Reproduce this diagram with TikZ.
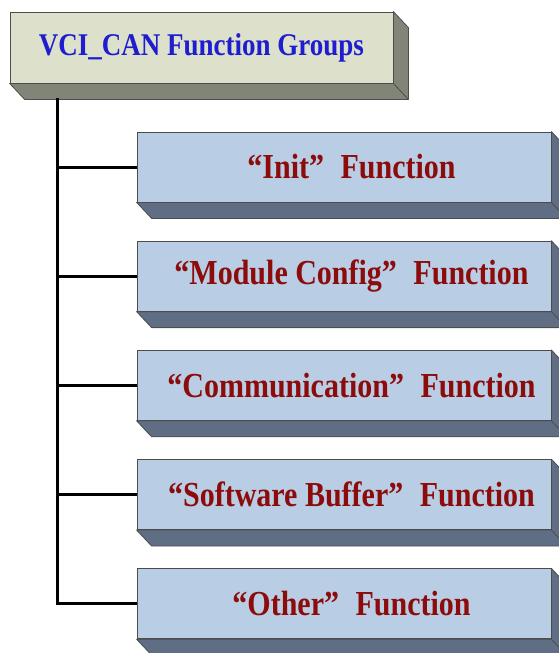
\documentclass[tikz,border=0pt]{standalone}
\usepackage{fontspec}
\setmainfont{Liberation Serif}
\usepackage{tikz}
\usetikzlibrary{calc,backgrounds}
\definecolor{grpfill}{HTML}{DDE0CB}
\definecolor{grpside}{HTML}{818578}
\definecolor{fnfill}{HTML}{B9CDE5}
\definecolor{fnside}{HTML}{5F6E85}
\definecolor{grptext}{HTML}{1E1ECF}
\definecolor{fntext}{HTML}{8C0C0C}
\tikzset{
  grp/.style={draw=black!70,line width=0.8pt,fill=grpfill,minimum width=383pt,minimum height=71pt,inner sep=0pt,font=\fontsize{27}{30}\selectfont\bfseries,text=grptext},
  fn/.style={draw=black!70,line width=0.8pt,fill=fnfill,minimum width=414pt,minimum height=70pt,inner sep=0pt,font=\fontsize{30}{33}\selectfont\bfseries,text=fntext},
  face/.style={draw=black!70,line width=0.8pt,line join=round},
  tree/.style={draw=black,line width=3pt},
}
\newcommand{\tall}[1]{\scalebox{1}[1.17]{#1}}
\newcommand{\fnname}[1]{\tall{\hspace{.5em}“#1”\hspace{.55em}Function}}
% bottom and right faces of a block, behind the node
\newcommand{\extrude}[2]{%
  \begin{scope}[on background layer]
    \fill[face,fill=#2] (#1.south west) -- ($(#1.south west)+(15,16)$) -- ($(#1.south east)+(15,16)$)
      -- ($(#1.north east)+(15,16)$) -- (#1.north east) -- (#1.south east) -- cycle;
    \draw[face] (#1.south east) -- ($(#1.south east)+(15,16)$);
  \end{scope}}

\begin{document}
\begin{tikzpicture}[x=1pt,y=-1pt]
\useasboundingbox (0,0) rectangle (558,653);
\node[grp] (grp) at (201.5,47.5) {\tall{VCI\_CAN Function Groups}};
\extrude{grp}{grpside}
\coordinate (trunk) at ($(grp.south west)+(48,15)$);
\foreach \i/\name/\txt in {
  0/init/Init,
  1/cfg/Module Config,
  2/comm/Communication,
  3/swbuf/Software Buffer,
  4/other/Other} {
  \node[fn] (\name) at (344,{167+109.2*\i}) {\fnname{\txt}};
  \extrude{\name}{fnside}
  \draw[tree] (trunk |- \name.west) -- (\name.west);
}
\draw[tree] (trunk) |- (other.west);
\end{tikzpicture}
\end{document}
